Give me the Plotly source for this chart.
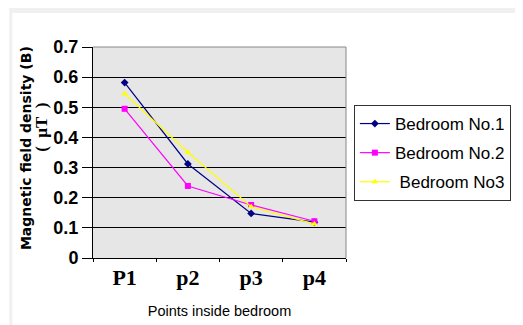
import plotly.graph_objects as go

categories = ["P1", "p2", "p3", "p4"]
bedroom1 = [0.582, 0.312, 0.148, 0.119]
bedroom2 = [0.495, 0.239, 0.176, 0.122]
bedroom3 = [0.545, 0.351, 0.170, 0.113]
series_names = ["Bedroom No.1", "Bedroom No.2", " Bedroom No3"]
y_ticks = [0, 0.1, 0.2, 0.3, 0.4, 0.5, 0.6, 0.7]

colors = ["#000080", "#ff00ff", "#ffff00"]
symbols = ["diamond", "square", "triangle-up"]

fig = go.Figure()
for i, (vals, name) in enumerate(zip([bedroom1, bedroom2, bedroom3], series_names)):
    fig.add_trace(go.Scatter(
        x=categories, y=vals, name=name, mode="lines+markers",
        line=dict(color=colors[i], width=1.2),
        marker=dict(color=colors[i], symbol=symbols[i], size=6),
        legendgroup=f"g{i}",
    ))

# page body has an 8px margin, so the figure is drawn from (8, 8)
W, H = 515, 317
L, T = 85, 39
PW, PH = 257, 211
PX0 = L + 8  # plot-area left edge in page pixels
PY1 = T + 8 + PH  # plot-area bottom in page pixels
fig.update_layout(
    width=W, height=H,
    margin=dict(l=L, r=W - L - PW, t=T, b=H - T - PH),
    paper_bgcolor="white",
    plot_bgcolor="#e6e6e6",
    font=dict(family="Liberation Sans, Arial, sans-serif", color="black"),
    showlegend=True,
    legend=dict(
        x=265 / PW, y=1 - 58 / PH, xanchor="left", yanchor="top",
        bordercolor="#333333", borderwidth=1, bgcolor="white",
        font=dict(size=17, family="Liberation Sans, Arial, sans-serif"),
        tracegroupgap=4, itemwidth=30,
    ),
    xaxis=dict(
        type="category", range=[-0.5, 3.5], automargin=False,
        showline=True, linecolor="black", linewidth=1,
        mirror=False, showgrid=False,
        ticks="outside", tickson="boundaries", ticklen=3, tickcolor="black",
        tickfont=dict(size=22, family="Liberation Serif, Times New Roman, serif", weight="bold"),
        title=dict(text="Points inside bedroom", font=dict(size=14.5, family="Liberation Sans, Arial"), standoff=16),
    ),
    yaxis=dict(
        range=[0, 0.7], tickvals=y_ticks, automargin=False,
        showline=True, linecolor="black", linewidth=1,
        showgrid=True, gridcolor="black", gridwidth=1,
        ticks="outside", ticklen=10, tickcolor="black",
        tickfont=dict(size=18, family="Liberation Sans, Arial", weight="bold"),
        zeroline=False,
    ),
    shapes=[
        dict(type="line", xref="paper", yref="paper", x0=0, x1=1, y0=1, y1=1, line=dict(color="#888888", width=1)),
        dict(type="line", xref="paper", yref="paper", x0=1, x1=1, y0=0, y1=1, line=dict(color="#888888", width=1)),
        # soft shadow frame
        dict(type="rect", xref="paper", yref="paper", x0=-L / PW, x1=(W - L) / PW, y0=1 + (T - 5) / PH, y1=1 + T / PH,
             fillcolor="#f0f0f0", line_width=0, layer="below"),
        dict(type="rect", xref="paper", yref="paper", x0=-L / PW, x1=-(L - 3) / PW, y0=-(H - T - PH) / PH, y1=1 + T / PH,
             fillcolor="#f0f0f0", line_width=0, layer="below"),
    ],
    annotations=[
        dict(text="<b>Magnetic field density (B)</b>", xref="paper", yref="paper",
             x=(25 - PX0) / PW, y=(PY1 - 148) / PH, xanchor="center", yanchor="middle",
             textangle=-90, showarrow=False,
             font=dict(size=14, family="DejaVu Sans, sans-serif")),
        dict(text="<b>(&nbsp; μT&nbsp; )</b>", xref="paper", yref="paper",
             x=(40 - PX0) / PW, y=(PY1 - 127) / PH, xanchor="center", yanchor="middle",
             textangle=-90, showarrow=False,
             font=dict(size=17, family="Liberation Serif, Times New Roman")),
    ],
)

fig.write_html("out.html")
